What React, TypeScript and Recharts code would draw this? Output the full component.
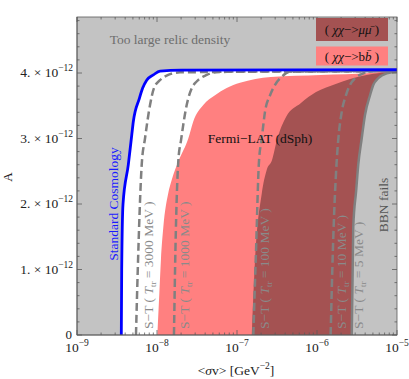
import React from "react";
import { ComposedChart, Area, Line, XAxis, YAxis, CartesianGrid } from "recharts";

// ---------- data (sigma v in GeV^-2, A dimensionless) ----------
const stdSigma = [3.58e-9, 3.62e-9, 3.76e-9, 4.38e-9, 4.83e-9, 5.06e-9, 6.01e-9, 6.62e-9, 7.43e-9, 8.99e-9, 1.09e-8, 2.0e-8, 1e-5];
const stdA = [0, 1.0e-12, 2.0e-12, 2.6e-12, 3.05e-12, 3.26e-12, 3.61e-12, 3.77e-12, 3.89e-12, 3.97e-12, 4.03e-12, 4.045e-12, 4.05e-12];

const st3000Sigma = [5.46e-9, 5.75e-9, 6.44e-9, 7.08e-9, 8.18e-9, 9.17e-9, 1.09e-8, 1.38e-8, 1.94e-8, 1e-5];
const st3000A = [0, 1.0e-12, 2.6e-12, 3.0e-12, 3.51e-12, 3.77e-12, 3.89e-12, 3.97e-12, 4.01e-12, 4.03e-12];

const st1000Sigma = [1.63e-8, 1.7e-8, 1.85e-8, 2.0e-8, 2.35e-8, 2.72e-8, 3.13e-8, 4.18e-8, 6.13e-8, 1e-5];
const st1000A = [0, 1.3e-12, 2.67e-12, 2.98e-12, 3.51e-12, 3.77e-12, 3.87e-12, 3.97e-12, 4.02e-12, 4.03e-12];

const st100Sigma = [1.6e-7, 1.73e-7, 1.88e-7, 2.04e-7, 2.24e-7, 2.59e-7, 2.99e-7, 3.62e-7, 4.6e-7, 1e-5];
const st100A = [0, 1.3e-12, 2.64e-12, 3.0e-12, 3.41e-12, 3.66e-12, 3.82e-12, 3.94e-12, 4.02e-12, 4.03e-12];

const st10Sigma = [1.48e-6, 1.58e-6, 1.76e-6, 1.85e-6, 2.04e-6, 2.3e-6, 2.59e-6, 2.99e-6, 3.79e-6, 5.06e-6, 1e-5];
const st10A = [0, 1.3e-12, 2.64e-12, 3.0e-12, 3.41e-12, 3.66e-12, 3.82e-12, 3.92e-12, 3.995e-12, 4.03e-12, 4.03e-12];

// S-T (T_tr = 5 MeV) = BBN boundary
const st5Sigma = [2.72e-6, 2.84e-6, 3.09e-6, 3.28e-6, 3.62e-6, 3.98e-6, 4.6e-6, 5.06e-6, 5.83e-6, 7.43e-6, 9.91e-6, 1e-5];
const st5A = [0, 1.65e-12, 2.21e-12, 2.6e-12, 3.0e-12, 3.36e-12, 3.66e-12, 3.82e-12, 3.92e-12, 3.995e-12, 4.02e-12, 4.02e-12];

// Fermi-LAT (dSph) bb-bar
const bbSigma = [1.01e-8, 1.07e-8, 1.12e-8, 1.2e-8, 1.38e-8, 1.53e-8, 1.88e-8, 2.46e-8, 2.84e-8, 3.79e-8, 5.31e-8, 7.43e-8, 1.09e-7, 2.64e-7, 1.11e-6, 4.69e-6, 8.18e-6, 1e-5];
const bbA = [0, 0.64e-12, 1.15e-12, 1.65e-12, 2.16e-12, 2.37e-12, 2.67e-12, 3.0e-12, 3.26e-12, 3.51e-12, 3.66e-12, 3.77e-12, 3.85e-12, 3.94e-12, 3.97e-12, 4.0e-12, 4.03e-12, 4.03e-12];

// Fermi-LAT (dSph) mu mu-bar
const mumuSigma = [1.53e-7, 1.68e-7, 2.04e-7, 2.35e-7, 2.74e-7, 3.16e-7, 4.1e-7, 6.25e-7, 9.72e-7, 1.68e-6, 2.59e-6, 4.18e-6, 6.13e-6, 1e-5];
const mumuA = [0, 1.15e-12, 2.16e-12, 2.52e-12, 2.67e-12, 2.98e-12, 3.33e-12, 3.54e-12, 3.71e-12, 3.83e-12, 3.91e-12, 3.97e-12, 4.0e-12, 4.02e-12];

// ticks
const X_MAJOR = [1e-9, 1e-8, 1e-7, 1e-6, 1e-5];
const X_EXP = ["\u22129", "\u22128", "\u22127", "\u22126", "\u22125"];
const X_MINOR = [
  2e-9, 3e-9, 4e-9, 5e-9, 6e-9, 7e-9, 8e-9, 9e-9,
  2e-8, 3e-8, 4e-8, 5e-8, 6e-8, 7e-8, 8e-8, 9e-8,
  2e-7, 3e-7, 4e-7, 5e-7, 6e-7, 7e-7, 8e-7, 9e-7,
  2e-6, 3e-6, 4e-6, 5e-6, 6e-6, 7e-6, 8e-6, 9e-6,
];
const Y_MAJOR = [0, 1e-12, 2e-12, 3e-12, 4e-12];
const Y_LABELS = ["0", "1.", "2.", "3.", "4."];
const Y_MINOR = [
  2e-13, 4e-13, 6e-13, 8e-13, 1.2e-12, 1.4e-12, 1.6e-12, 1.8e-12,
  2.2e-12, 2.4e-12, 2.6e-12, 2.8e-12, 3.2e-12, 3.4e-12, 3.6e-12, 3.8e-12,
  4.2e-12, 4.4e-12, 4.6e-12, 4.8e-12,
];

const zip = (xs: number[], ys: number[]) => xs.map((x, i) => ({ x, a: ys[i] }));
const stdData = zip(stdSigma, stdA);
const st3000Data = zip(st3000Sigma, st3000A);
const st1000Data = zip(st1000Sigma, st1000A);
const st100Data = zip(st100Sigma, st100A);
const st10Data = zip(st10Sigma, st10A);
const st5Data = zip(st5Sigma, st5A);
const bbData = zip(bbSigma, bbA);
const mumuData = zip(mumuSigma, mumuA);

// ---------- layout ----------
const W = 409, H = 379;
const L = 77, R = 397, T = 17, B = 335;
const FONT = '"Liberation Serif", "Times New Roman", serif';
const FRAME = "#5a5a5a";
const GRAY = "#c3c3c3";
const PINK = "#ff8080";
const DARK = "#a45252";
const DASH = "#808080";

const XTick = (props: any) => {
  const { x, payload } = props;
  const v = payload.value;
  const i = X_MAJOR.indexOf(v);
  const len = i >= 0 ? 5 : 2.5;
  return (
    <g>
      <line x1={x} x2={x} y1={B} y2={B - len} stroke={FRAME} strokeWidth={0.8} />
      <line x1={x} x2={x} y1={T} y2={T + len} stroke={FRAME} strokeWidth={0.8} />
      {i >= 0 && (
        <text x={x} y={B + 17} textAnchor="middle" fontFamily={FONT} fontSize={13.5} fill="#222">
          10<tspan dy={-6} fontSize={9.5}>{X_EXP[i]}</tspan>
        </text>
      )}
    </g>
  );
};

const YTick = (props: any) => {
  const { y, payload } = props;
  const v = payload.value;
  const i = Y_MAJOR.indexOf(v);
  const len = i >= 0 ? 5 : 2.5;
  return (
    <g>
      <line x1={L} x2={L + len} y1={y} y2={y} stroke={FRAME} strokeWidth={0.8} />
      <line x1={R} x2={R - len} y1={y} y2={y} stroke={FRAME} strokeWidth={0.8} />
      {i === 0 && (
        <text x={L - 5} y={y + 3.5} textAnchor="end" fontFamily={FONT} fontSize={13} fill="#222">0</text>
      )}
      {i > 0 && (
        <text x={L - 4} y={y + 4} textAnchor="end" fontFamily={FONT} fontSize={13.5} fill="#222">
          {Y_LABELS[i]} {"\u00d7"} 10<tspan dy={-6} fontSize={9.5}>{"\u221212"}</tspan>
        </text>
      )}
    </g>
  );
};

const STLabel = ({ cx, value }: { cx: number; value: string }) => (
  <text
    transform={`rotate(-90 ${cx} 329)`}
    x={cx}
    y={329}
    dy="0.35em"
    textAnchor="start"
    fontFamily={FONT}
    fontSize={13.5}
    fill="#8a8a8a"
  >
    S{"\u2212"}T ( <tspan fontStyle="italic">T</tspan>
    <tspan fontSize={9} dy={3}>tr</tspan>
    <tspan dy={-3}> = {value} MeV )</tspan>
  </text>
);

export default function App() {
  const ticksX = [...X_MAJOR, ...X_MINOR].sort((a, b) => a - b);
  const ticksY = [...Y_MAJOR, ...Y_MINOR].sort((a, b) => a - b);
  return (
    <div style={{ position: "absolute", left: 0, top: 0, width: W, height: H }}>
      <ComposedChart width={W} height={H} margin={{ top: T, right: W - R, bottom: H - B - 30, left: L - 50 }}>
        <CartesianGrid horizontal={false} vertical={false} fill={GRAY} fillOpacity={1} stroke="none" />
        <Area data={stdData} dataKey="a" type="monotone" fill="#ffffff" fillOpacity={1} stroke="none" dot={false} activeDot={false} isAnimationActive={false} />
        <Area data={bbData} dataKey="a" type="monotone" fill={PINK} fillOpacity={1} stroke="none" dot={false} activeDot={false} isAnimationActive={false} />
        <Area data={mumuData} dataKey="a" type="monotone" fill={DARK} fillOpacity={1} stroke="none" dot={false} activeDot={false} isAnimationActive={false} />
        <Area data={st5Data} dataKey="a" type="monotone" fill={GRAY} fillOpacity={1} stroke="none" dot={false} activeDot={false} isAnimationActive={false} />
        <Line data={st3000Data} dataKey="a" type="monotone" stroke={DASH} strokeWidth={2.5} strokeDasharray="8 4" dot={false} activeDot={false} isAnimationActive={false} />
        <Line data={st1000Data} dataKey="a" type="monotone" stroke={DASH} strokeWidth={2.5} strokeDasharray="8 4" dot={false} activeDot={false} isAnimationActive={false} />
        <Line data={st100Data} dataKey="a" type="monotone" stroke={DASH} strokeWidth={2.5} strokeDasharray="8 4" dot={false} activeDot={false} isAnimationActive={false} />
        <Line data={st10Data} dataKey="a" type="monotone" stroke={DASH} strokeWidth={2.5} strokeDasharray="8 4" dot={false} activeDot={false} isAnimationActive={false} />
        <Line data={st5Data} dataKey="a" type="monotone" stroke={DASH} strokeWidth={2.5} dot={false} activeDot={false} isAnimationActive={false} />
        <Line data={stdData} dataKey="a" type="monotone" stroke="#0000ff" strokeWidth={2.8} dot={false} activeDot={false} isAnimationActive={false} />
        <XAxis
          dataKey="x"
          type="number"
          scale="log"
          domain={[1e-9, 1e-5]}
          allowDataOverflow
          ticks={ticksX}
          interval={0}
          tick={<XTick />}
          tickLine={false}
          tickSize={0}
          tickMargin={0}
          axisLine={{ stroke: FRAME, strokeWidth: 0.8 }}
          height={30}
        />
        <YAxis
          type="number"
          domain={[0, 4.855e-12]}
          allowDataOverflow
          ticks={ticksY}
          interval={0}
          tick={<YTick />}
          tickLine={false}
          tickSize={0}
          tickMargin={0}
          axisLine={{ stroke: FRAME, strokeWidth: 0.8 }}
          width={50}
        />
      </ComposedChart>
      <svg width={W} height={H} style={{ position: "absolute", left: 0, top: 0, pointerEvents: "none" }}>
        <rect x={L} y={T} width={R - L} height={B - T} fill="none" stroke={FRAME} strokeWidth={0.8} />
        <text x={170} y={44} textAnchor="middle" fontFamily={FONT} fontSize={13.5} fill="#6e6e6e">Too large relic density</text>
        <rect x={316} y={18} width={72} height={23} fill={DARK} />
        <text x={352} y={34} textAnchor="middle" fontFamily={FONT} fontSize={13} fill="#111">
          ( <tspan fontStyle="italic">{"\u03c7\u03c7"}</tspan>{"\u2212>"}<tspan fontStyle="italic">{"\u03bc\u03bc\u0304"}</tspan> )
        </text>
        <rect x={316} y={46.5} width={72} height={19} fill={PINK} />
        <text x={352} y={60.5} textAnchor="middle" fontFamily={FONT} fontSize={13} fill="#111">
          ( <tspan fontStyle="italic">{"\u03c7\u03c7"}</tspan>{"\u2212>"}b<tspan fontStyle="italic">{"b\u0304"}</tspan> )
        </text>
        <text x={260} y={143} textAnchor="middle" fontFamily={FONT} fontSize={13.5} fill="#111">Fermi{"\u2212"}LAT (dSph)</text>
        <text transform="rotate(-90 113 204)" x={113} y={204} dy="0.35em" textAnchor="middle" fontFamily={FONT} fontSize={13.5} fill="#1a1aff">Standard Cosmology</text>
        <STLabel cx={148} value="3000" />
        <STLabel cx={184} value="1000" />
        <STLabel cx={264} value="100" />
        <STLabel cx={341} value="10" />
        <STLabel cx={358} value="5" />
        <text transform="rotate(-90 383 205)" x={383} y={205} dy="0.35em" textAnchor="middle" fontFamily={FONT} fontSize={13.5} fill="#555">BBN fails</text>
        <text transform="rotate(-90 7 177)" x={7} y={177} dy="0.35em" textAnchor="middle" fontFamily={FONT} fontSize={13} fill="#222">A</text>
        <text x={236} y={375} textAnchor="middle" fontFamily={FONT} fontSize={13.5} fill="#222">
          {"<"}<tspan fontStyle="italic">{"\u03c3"}</tspan>v{">"} [GeV<tspan dy={-6} fontSize={9.5}>{"\u22122"}</tspan><tspan dy={6}>]</tspan>
        </text>
      </svg>
    </div>
  );
}
